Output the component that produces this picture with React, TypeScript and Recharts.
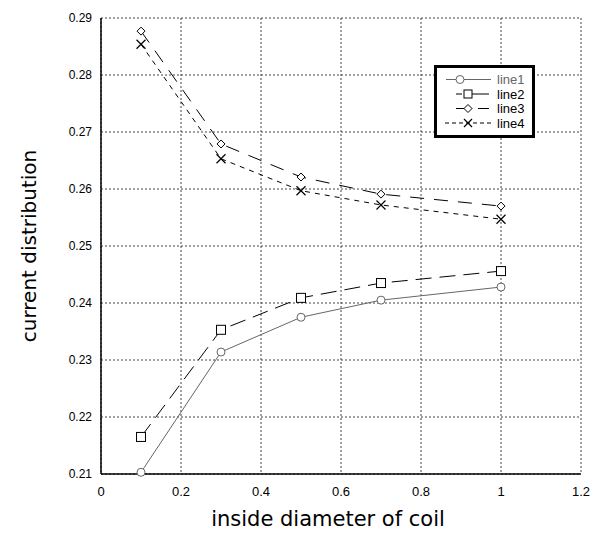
import React from "react";
import { LineChart, Line, XAxis, YAxis, CartesianGrid } from "recharts";

const xValues = [0.1, 0.3, 0.5, 0.7, 1.0];
const line1 = [0.2103, 0.2314, 0.2375, 0.2405, 0.2428];
const line2 = [0.2165, 0.2353, 0.2409, 0.2435, 0.2456];
const line3 = [0.2877, 0.2679, 0.2621, 0.2591, 0.257];
const line4 = [0.2854, 0.2653, 0.2597, 0.2572, 0.2547];
const xTicks = [0, 0.2, 0.4, 0.6, 0.8, 1.0, 1.2];
const yTicks = [0.21, 0.22, 0.23, 0.24, 0.25, 0.26, 0.27, 0.28, 0.29];
const seriesNames = ["line1", "line2", "line3", "line4"];

const data = xValues.map((x, i) => ({ x, line1: line1[i], line2: line2[i], line3: line3[i], line4: line4[i] }));

const Circle = (p: any) => <circle key={p.index} cx={p.cx} cy={p.cy} r={4} fill="#fff" stroke="#666" strokeWidth={1} />;
const Square = (p: any) => <rect key={p.index} x={p.cx - 4.5} y={p.cy - 4.5} width={9} height={9} fill="#fff" stroke="#000" strokeWidth={1} />;
const Diamond = (p: any) => (
  <path key={p.index} d={`M${p.cx},${p.cy - 4}L${p.cx + 4},${p.cy}L${p.cx},${p.cy + 4}L${p.cx - 4},${p.cy}Z`} fill="#fff" stroke="#000" strokeWidth={1} />
);
const Cross = (p: any) => (
  <path key={p.index} d={`M${p.cx - 4.5},${p.cy - 4.5}L${p.cx + 4.5},${p.cy + 4.5}M${p.cx - 4.5},${p.cy + 4.5}L${p.cx + 4.5},${p.cy - 4.5}`} stroke="#000" strokeWidth={1.2} fill="none" />
);

const rows = [14.5, 29, 43.5, 58];

const LegendBox = () => (
  <svg width={101} height={73} style={{ position: "absolute", left: 434, top: 65 }}>
    <rect x={1.5} y={1.5} width={98} height={70} fill="#fff" stroke="#000" strokeWidth={3} />
    <g fontFamily="Liberation Sans, Arial, sans-serif" fontSize={13}>
      <line x1={12} x2={57} y1={rows[0]} y2={rows[0]} stroke="#666" />
      <circle cx={26} cy={rows[0]} r={4} fill="#fff" stroke="#666" />
      <text x={63} y={rows[0] + 4.5} fill="#666">{seriesNames[0]}</text>
      <line x1={22} x2={55} y1={rows[1]} y2={rows[1]} stroke="#000" strokeDasharray="6 6 30" />
      <rect x={30} y={rows[1] - 4} width={8} height={8} fill="#fff" stroke="#000" />
      <text x={63} y={rows[1] + 4.5} fill="#000">{seriesNames[1]}</text>
      <line x1={22} x2={55} y1={rows[2]} y2={rows[2]} stroke="#000" strokeDasharray="16 6 12" />
      <path d={`M34,${rows[2] - 4}L38,${rows[2]}L34,${rows[2] + 4}L30,${rows[2]}Z`} fill="#fff" stroke="#000" />
      <text x={63} y={rows[2] + 4.5} fill="#000">{seriesNames[2]}</text>
      <line x1={11} x2={58} y1={rows[3]} y2={rows[3]} stroke="#000" strokeDasharray="4 3" />
      <path d={`M30,${rows[3] - 4}L38,${rows[3] + 4}M30,${rows[3] + 4}L38,${rows[3] - 4}`} stroke="#000" strokeWidth={1.2} />
      <text x={63} y={rows[3] + 4.5} fill="#000">{seriesNames[3]}</text>
    </g>
  </svg>
);

export default function App() {
  return (
    <div style={{ position: "absolute", left: 0, top: 0, width: 591, height: 537 }}>
      <LineChart width={591} height={537} data={data} margin={{ top: 18, right: 10, bottom: 0, left: 0 }}>
        <CartesianGrid stroke="#444" strokeDasharray="2 2" />
        <XAxis
          dataKey="x"
          type="number"
          domain={[0, 1.2]}
          ticks={xTicks}
          tickFormatter={(v: number) => String(Math.round(v * 10) / 10)}
          height={63}
          tickLine={false}
          tickSize={0}
          tickMargin={13}
          axisLine={{ stroke: "#000", strokeWidth: 1.5 }}
          tick={{ fill: "#000", fontSize: 13, fontFamily: "Liberation Sans, Arial, sans-serif" }}
          label={{ value: "inside diameter of coil", position: "insideBottom", offset: 11, dx: -13, fill: "#000", fontSize: 21, fontFamily: "DejaVu Sans, sans-serif" }}
        />
        <YAxis
          type="number"
          domain={[0.21, 0.29]}
          ticks={yTicks}
          tickFormatter={(v: number) => v.toFixed(2)}
          width={101}
          tickLine={false}
          tickSize={0}
          tickMargin={9}
          axisLine={{ stroke: "#000", strokeWidth: 1.5 }}
          tick={{ fill: "#000", fontSize: 12, fontFamily: "Liberation Sans, Arial, sans-serif" }}
          label={{ value: "current distribution", angle: -90, position: "insideLeft", offset: 29, fill: "#000", fontSize: 20, fontFamily: "DejaVu Sans, sans-serif", style: { textAnchor: "middle" } }}
        />
        <Line dataKey="line1" stroke="#666" strokeWidth={1} dot={Circle} isAnimationActive={false} />
        <Line dataKey="line2" stroke="#000" strokeWidth={1} strokeDasharray="16 8" dot={Square} isAnimationActive={false} />
        <Line dataKey="line3" stroke="#000" strokeWidth={1} strokeDasharray="14 10" dot={Diamond} isAnimationActive={false} />
        <Line dataKey="line4" stroke="#000" strokeWidth={1} strokeDasharray="5 5" dot={Cross} isAnimationActive={false} />
      </LineChart>
      <LegendBox />
    </div>
  );
}
